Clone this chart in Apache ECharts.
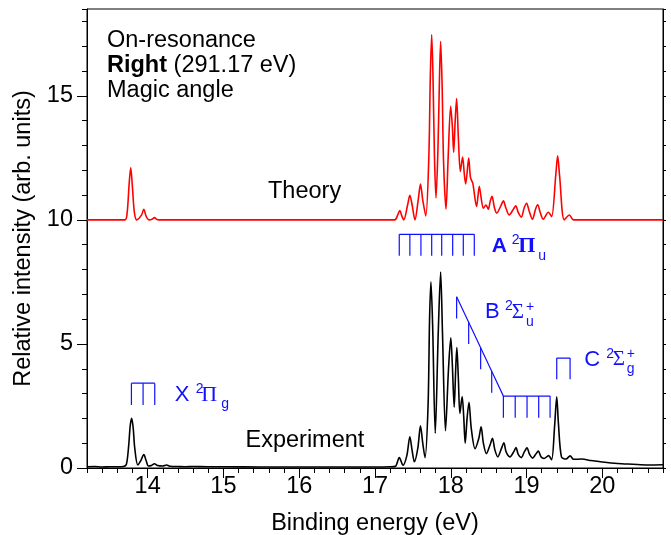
<!DOCTYPE html>
<html>
<head>
<meta charset="utf-8">
<script src="https://cdn.jsdelivr.net/npm/echarts@6/dist/echarts.min.js"></script>
<style>
html, body { margin: 0; padding: 0; background: #fff; }
#chart { width: 671px; height: 535px; }
</style>
</head>
<body>
<div id="chart"></div>
<script>
// Calculated spectrum (shifted up by 10 units), [binding energy eV, intensity]
const theory = [
  [13.20, 10], [13.70, 10], [13.73, 10.3], [13.755, 11.4], [13.777, 12.11], [13.80, 11.3],
  [13.825, 10.3], [13.856, 10.0], [13.92, 10.2], [13.949, 10.43], [13.98, 10.15], [14.015, 10.0],
  [14.06, 10.03], [14.09, 10.09], [14.12, 10.02], [14.15, 10], [17.26, 10], [17.30, 10.2],
  [17.327, 10.38], [17.355, 10.15], [17.38, 10.0], [17.43, 10.6], [17.46, 10.99], [17.49, 10.6],
  [17.527, 10.0], [17.57, 10.8], [17.60, 11.44], [17.63, 10.8], [17.67, 10.16], [17.71, 12.5],
  [17.73, 15.8], [17.748, 17.47], [17.765, 15.8], [17.785, 12.5], [17.805, 10.88], [17.83, 12.8],
  [17.85, 15.6], [17.866, 17.2], [17.885, 15.5], [17.905, 12.3], [17.937, 10.43], [17.965, 12.5],
  [17.998, 14.58], [18.02, 13.8], [18.038, 12.72], [18.058, 14.0], [18.077, 14.89], [18.10, 13.3],
  [18.126, 11.95], [18.156, 12.53], [18.18, 11.8], [18.197, 11.45], [18.236, 12.49], [18.26, 11.7],
  [18.29, 11.48], [18.34, 10.54], [18.376, 11.35], [18.40, 10.9], [18.43, 10.47], [18.465, 10.6],
  [18.495, 10.43], [18.52, 10.75], [18.544, 10.95], [18.575, 10.5], [18.606, 10.27], [18.665, 10.6],
  [18.694, 10.77], [18.725, 10.5], [18.77, 10.2], [18.83, 10.45], [18.857, 10.57], [18.89, 10.3],
  [18.93, 10.11], [18.97, 10.5], [19.0, 10.67], [19.035, 10.35], [19.077, 10.03], [19.12, 10.45],
  [19.147, 10.61], [19.18, 10.3], [19.22, 10.03], [19.287, 10.31], [19.33, 10.13], [19.385, 11.8],
  [19.41, 12.58], [19.435, 11.8], [19.497, 10.0], [19.565, 10.2], [19.62, 10.0], [20.8, 10]
];

// Measured photoelectron spectrum
const experiment = [
  [13.20, 0.05], [13.30, 0.06], [13.40, 0.04], [13.50, 0.05], [13.60, 0.05], [13.68, 0.06],
  [13.72, 0.15], [13.75, 0.9], [13.77, 1.7], [13.79, 2.0], [13.81, 1.6], [13.83, 0.8],
  [13.87, 0.12], [13.91, 0.3], [13.95, 0.54], [13.98, 0.3], [14.01, 0.08], [14.05, 0.1],
  [14.09, 0.17], [14.13, 0.1], [14.20, 0.08], [14.25, 0.12], [14.30, 0.07], [14.40, 0.06],
  [14.50, 0.05], [14.60, 0.06], [14.80, 0.05], [15.0, 0.05], [15.5, 0.04], [16.0, 0.04],
  [16.5, 0.04], [17.0, 0.04], [17.2, 0.05], [17.27, 0.07], [17.32, 0.42], [17.37, 0.11],
  [17.42, 0.5], [17.46, 1.26], [17.49, 0.7], [17.52, 0.25], [17.565, 0.8], [17.60, 1.7],
  [17.63, 1.0], [17.66, 0.42], [17.70, 2.5], [17.72, 6.0], [17.738, 7.5], [17.76, 5.8],
  [17.795, 1.4], [17.835, 5.5], [17.866, 7.9], [17.89, 5.5], [17.93, 1.5], [17.97, 4.0],
  [18.0, 5.25], [18.02, 4.2], [18.045, 2.45], [18.065, 4.0], [18.08, 4.85], [18.10, 3.6],
  [18.12, 2.2], [18.15, 2.88], [18.17, 2.1], [18.19, 1.0], [18.215, 2.0], [18.24, 2.65],
  [18.27, 1.6], [18.32, 0.78], [18.37, 1.2], [18.40, 1.66], [18.43, 1.0], [18.47, 0.58],
  [18.52, 0.95], [18.55, 1.2], [18.58, 0.75], [18.62, 0.45], [18.67, 0.8], [18.70, 1.02],
  [18.73, 0.65], [18.78, 0.45], [18.83, 0.65], [18.86, 0.82], [18.89, 0.55], [18.93, 0.42],
  [18.97, 0.65], [19.005, 0.81], [19.04, 0.55], [19.08, 0.40], [19.12, 0.55], [19.155, 0.68],
  [19.19, 0.45], [19.23, 0.38], [19.29, 0.5], [19.33, 0.33], [19.37, 1.7], [19.398, 2.87],
  [19.42, 1.8], [19.46, 0.45], [19.52, 0.36], [19.575, 0.49], [19.62, 0.35], [19.73, 0.36],
  [19.85, 0.3], [20.0, 0.24], [20.2, 0.18], [20.4, 0.15], [20.6, 0.12], [20.8, 0.13]
];

// Axis ranges and labelled ticks
const xRange = [13.2, 20.8];
const yRange = [0, 18.5];
const xMajorTicks = [14, 15, 16, 17, 18, 19, 20];
const yMajorTicks = [0, 5, 10, 15];

// Vibrational progressions: level energies (eV) and the [bottom, top] of each comb
const combX = [13.786, 13.94, 14.094];
const combXSpan = [2.54, 3.42];
const combA = [17.32, 17.46, 17.606, 17.748, 17.88, 18.025, 18.165, 18.31];
const combASpan = [8.55, 9.42];
const combC = [19.398, 19.574];
const combCSpan = [3.58, 4.43];
// B state: the comb top slopes down over the first levels, then runs flat
const combB = [18.077, 18.236, 18.394, 18.54, 18.694, 18.85, 19.006, 19.16, 19.31];
const combBTop = [6.9, 5.87, 4.85, 3.9, 2.9, 2.9, 2.9, 2.9, 2.9];
const combBTick = 0.87;

const BLUE = '#1010ff';
const SANS = '"Liberation Sans", Arial, Helvetica, sans-serif';
const SERIF = '"Liberation Serif", "Times New Roman", serif';
const FONT = 23.5;

function flatComb(levels, span) {
  const segs = [{ coords: [[levels[0], span[1]], [levels[levels.length - 1], span[1]]] }];
  levels.forEach(e => segs.push({ coords: [[e, span[1]], [e, span[0]]] }));
  return segs;
}
function slopedComb(levels, tops, tick) {
  const segs = [{ coords: levels.map((e, i) => [e, tops[i]]) }];
  levels.forEach((e, i) => segs.push({ coords: [[e, tops[i]], [e, tops[i] - tick]] }));
  return segs;
}
const combSegments = [].concat(
  flatComb(combX, combXSpan),
  flatComb(combA, combASpan),
  flatComb(combC, combCSpan),
  slopedComb(combB, combBTop, combBTick)
);

const chart = echarts.init(document.getElementById('chart'), null, { renderer: 'canvas' });

const tickLabelStyle = { color: '#000', fontSize: FONT, fontFamily: SANS };
const nameStyle = { color: '#000', fontSize: FONT, fontFamily: SANS };
const blackLine = { color: '#000', width: 1 };

chart.setOption({
  animation: false,
  backgroundColor: '#fff',
  grid: { left: 87, right: 8, top: 9, bottom: 67, show: true, borderColor: '#000', borderWidth: 1,
          backgroundColor: 'transparent', containLabel: false, outerBoundsMode: 'none' },
  xAxis: [
    { type: 'value', min: xRange[0], max: xRange[1], interval: 0.2, position: 'bottom',
      axisLine: { show: true, lineStyle: blackLine }, axisTick: { show: true, length: 5, lineStyle: blackLine },
      axisLabel: { show: false }, splitLine: { show: false } },
    { type: 'value', min: xRange[0], max: xRange[1], interval: 0.2, position: 'bottom',
      axisLine: { show: false },
      axisTick: { show: true, length: 10, lineStyle: blackLine, customValues: xMajorTicks },
      axisLabel: Object.assign({ show: true, margin: 7, customValues: xMajorTicks }, tickLabelStyle),
      splitLine: { show: false },
      name: 'Binding energy (eV)', nameLocation: 'middle', nameGap: 44, nameTextStyle: nameStyle },
    { type: 'value', min: xRange[0], max: xRange[1], interval: 0.2, position: 'top',
      axisLine: { show: true, lineStyle: blackLine }, axisTick: { show: true, inside: true, length: 3, lineStyle: blackLine },
      axisLabel: { show: false }, splitLine: { show: false } }
  ],
  yAxis: [
    { type: 'value', min: yRange[0], max: yRange[1], interval: 1, position: 'left',
      axisLine: { show: true, lineStyle: blackLine }, axisTick: { show: true, length: 5, lineStyle: blackLine },
      axisLabel: { show: false }, splitLine: { show: false } },
    { type: 'value', min: yRange[0], max: yRange[1], interval: 1, position: 'left',
      axisLine: { show: false },
      axisTick: { show: true, length: 10, lineStyle: blackLine, customValues: yMajorTicks },
      axisLabel: Object.assign({ show: true, margin: 14, padding: [4, 0, 0, 0], customValues: yMajorTicks }, tickLabelStyle),
      splitLine: { show: false },
      name: 'Relative intensity (arb. units)', nameLocation: 'middle', nameGap: 50, nameTextStyle: nameStyle },
    { type: 'value', min: yRange[0], max: yRange[1], interval: 1, position: 'right',
      axisLine: { show: true, lineStyle: blackLine }, axisTick: { show: true, length: 3, lineStyle: blackLine },
      axisLabel: { show: false }, splitLine: { show: false } }
  ],
  series: [
    { name: 'Theory', type: 'line', xAxisIndex: 0, yAxisIndex: 0, data: theory,
      symbol: 'none', smooth: 0.3, lineStyle: { color: '#ff0000', width: 1.6 }, z: 3 },
    { name: 'Experiment', type: 'line', xAxisIndex: 0, yAxisIndex: 0, data: experiment,
      symbol: 'none', smooth: 0.3, lineStyle: { color: '#000', width: 1.6 }, z: 4 },
    { name: 'Progressions', type: 'lines', coordinateSystem: 'cartesian2d', xAxisIndex: 0, yAxisIndex: 0,
      polyline: true, data: combSegments, lineStyle: { color: BLUE, width: 1.2, opacity: 1 }, z: 5 }
  ]
});

// Text annotations
function txt(text, x, y, size, opts) {
  opts = opts || {};
  return {
    type: 'text', x: x, y: y, silent: true, z: 10,
    style: Object.assign({
      text: text,
      fill: opts.fill || BLUE,
      font: (opts.weight || 'normal') + ' ' + size + 'px ' + (opts.family || SANS),
      align: 'left', verticalAlign: 'middle'
    }, opts.rich ? { rich: opts.rich } : {})
  };
}

// Electronic state labels, anchored at data coordinates [energy, intensity]
const stateLabels = [
  { letter: 'X', at: [14.358, 2.95], bold: false, sym: 'Π', sub: 'g', plus: false, dx: [21, 26.5, 46.5] },
  { letter: 'A', at: [18.54, 8.93], bold: true, sym: 'Π', sub: 'u', plus: false, dx: [20, 26.6, 46.6] },
  { letter: 'B', at: [18.452, 6.27], bold: false, sym: 'Σ', sub: 'u', plus: true, dx: [20, 26.7, 41] },
  { letter: 'C', at: [19.76, 4.36], bold: false, sym: 'Σ', sub: 'g', plus: true, dx: [22, 28.6, 42.6] }
];

const graphics = [
  txt('On-resonance', 107, 40.5, FONT, { fill: '#000' }),
  txt('{b|Right} (291.17 eV)', 107, 65.5, FONT, { fill: '#000',
    rich: { b: { fontWeight: 'bold', fontSize: FONT, fontFamily: SANS, fill: '#000', color: '#000' } } }),
  txt('Magic angle', 107, 90.5, FONT, { fill: '#000' }),
  txt('Theory', 268, 192, FONT, { fill: '#000' }),
  txt('Experiment', 245.5, 440.5, FONT, { fill: '#000' })
];

stateLabels.forEach(s => {
  const p = chart.convertToPixel({ xAxisIndex: 0, yAxisIndex: 0 }, s.at);
  const w = s.bold ? 'bold' : 'normal';
  graphics.push(txt(s.letter, p[0], p[1], s.bold ? 21 : 22, { weight: w }));
  graphics.push(txt('2', p[0] + s.dx[0], p[1] - 6, 14));
  graphics.push(txt(s.sym, p[0] + s.dx[1], p[1], s.sym === 'Π' ? 22 : 21, { family: SERIF, weight: w }));
  if (s.plus) graphics.push(txt('+', p[0] + s.dx[2], p[1] - 5.5, 14));
  graphics.push(txt(s.sub, p[0] + s.dx[2], p[1] + 9.5, 14));
});

chart.setOption({ graphic: graphics });
</script>
</body>
</html>
